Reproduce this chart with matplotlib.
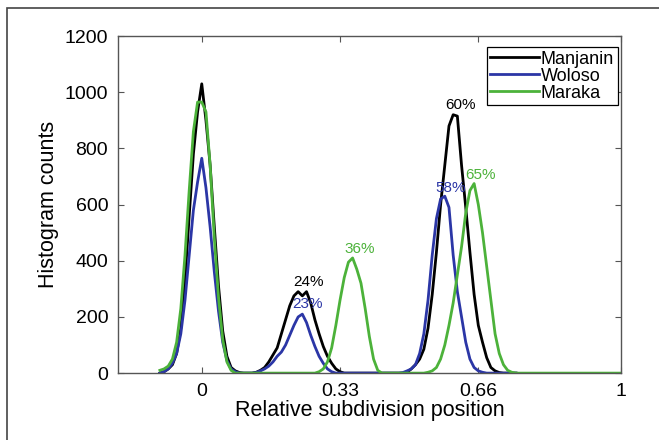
import numpy as np
import matplotlib
matplotlib.use("Agg")
import matplotlib.pyplot as plt
from matplotlib.patches import Rectangle

plt.rcParams["font.family"] = ["Liberation Sans", "DejaVu Sans"]

# histogram bins (bin centres), step 0.01
bins = np.round(np.arange(-0.10, 1.001, 0.01), 2)

# counts, bins -0.10 .. 0.75 for Manjanin / Woloso
manjanin = [0, 5, 15, 30, 70, 160, 330, 560, 780, 930,          # -0.10 .. -0.01
            1030, 900, 740, 520, 310, 150, 60, 20, 8, 2,         # 0.00 .. 0.09
            0, 0, 0, 3, 10, 20, 40, 65, 90, 140,                 # 0.10 .. 0.19
            190, 240, 275, 290, 275, 290, 250, 190, 140, 95,     # 0.20 .. 0.29
            60, 35, 15, 5, 0, 0, 0, 0, 0, 0,                     # 0.30 .. 0.39
            0, 0, 0, 0, 0, 0, 0, 0, 0, 3,                        # 0.40 .. 0.49
            15, 30, 50, 85, 160, 280, 430, 600, 740, 880,        # 0.50 .. 0.59
            920, 915, 740, 590, 430, 280, 170, 110, 55, 20,      # 0.60 .. 0.69
            8, 2, 0, 0, 0, 0]                                    # 0.70 .. 0.75
woloso = [0, 5, 15, 35, 70, 140, 260, 420, 580, 680,
          765, 660, 520, 360, 220, 110, 45, 15, 5, 0,
          0, 0, 0, 2, 8, 15, 25, 40, 60, 75,
          100, 135, 170, 200, 210, 180, 135, 95, 60, 35,
          15, 5, 0, 0, 0, 0, 0, 0, 0, 0,
          0, 0, 0, 0, 0, 0, 0, 0, 2, 8,
          15, 30, 70, 140, 260, 420, 550, 620, 630, 590,
          420, 290, 200, 110, 50, 20, 8, 3, 0, 0,
          0, 0, 0, 0, 0, 0]
# Maraka runs over all bins -0.10 .. 1.00
maraka = [10, 15, 25, 50, 110, 230, 420, 650, 860, 965,
          965, 930, 740, 480, 270, 120, 40, 10, 0, 0,
          0, 0, 0, 0, 0, 0, 0, 0, 0, 0,
          0, 0, 0, 0, 0, 0, 0, 0, 5, 15,
          40, 90, 170, 260, 340, 395, 410, 370, 320, 230,
          130, 50, 10, 0, 0, 0, 0, 0, 0, 0,
          0, 0, 0, 0, 3, 8, 20, 50, 100, 170,
          250, 350, 450, 570, 650, 675, 600, 500, 380, 260,
          140, 70, 30, 10, 3, 0] + [0] * 25

# peak labels: text, x, y, series
peak_text = ["24%", "23%", "36%", "60%", "58%", "65%"]
peak_x = [0.255, 0.253, 0.377, 0.618, 0.594, 0.666]
peak_y = [324, 246, 441, 954, 658, 705]
peak_series = ["Manjanin", "Woloso", "Maraka", "Manjanin", "Woloso", "Maraka"]

colors = {"Manjanin": "#000000", "Woloso": "#2b36a6", "Maraka": "#4cb23a"}

fig = plt.figure(figsize=(6.59, 4.40), dpi=100)
ax = fig.add_axes([0.179, 0.152, 0.763, 0.766])

ax.plot(bins[:len(manjanin)], manjanin, color=colors["Manjanin"], lw=2.0, label="Manjanin")
ax.plot(bins[:len(woloso)], woloso, color=colors["Woloso"], lw=2.0, label="Woloso")
ax.plot(bins[:len(maraka)], maraka, color=colors["Maraka"], lw=2.0, label="Maraka")

for t, x, y, s in zip(peak_text, peak_x, peak_y, peak_series):
    ax.text(x, y, t, color=colors[s], fontsize=11, ha="center", va="center")

ax.set_xlim(-0.2, 1)
ax.set_ylim(0, 1200)
ax.set_xticks([0, 0.33, 0.66, 1])
ax.set_xticklabels(["0", "0.33", "0.66", "1"])
ax.set_yticks(range(0, 1201, 200))
ax.tick_params(direction="in", top=True, right=True, labelsize=14, length=4,
               color="#555555", pad=7)
for sp in ax.spines.values():
    sp.set_color("#555555")
    sp.set_linewidth(1.0)

ax.set_xlabel("Relative subdivision position", fontsize=15.5, labelpad=0)
ax.set_ylabel("Histogram counts", fontsize=15.5, labelpad=4)

leg = ax.legend(loc="upper right", bbox_to_anchor=(0.994, 0.967), fontsize=13,
                fancybox=False, edgecolor="black", framealpha=1,
                handlelength=2.7, handletextpad=0.1, borderpad=0.2,
                labelspacing=0.0, borderaxespad=0)
leg.get_frame().set_linewidth(0.9)

# thin frame around the whole figure
fig.patches.append(Rectangle((7 / 659, -0.1), 1.2, (440 - 8) / 440 + 0.1,
                             transform=fig.transFigure, fill=False,
                             edgecolor="#444444", lw=1.2))

fig.savefig("out.png", dpi=100)
